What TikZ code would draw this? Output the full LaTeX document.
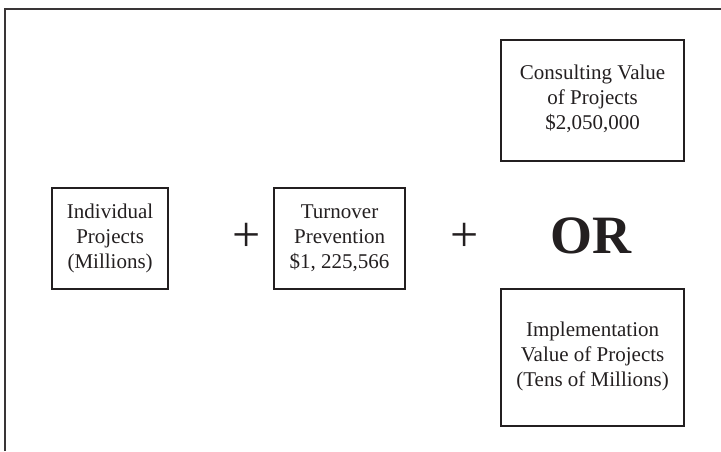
\documentclass[tikz,border=0pt]{standalone}
\usepackage{fontspec}
\setmainfont{Liberation Serif}
\definecolor{ink}{HTML}{231F20}
\begin{document}
\begin{tikzpicture}[x=1pt,y=-1pt,
  box/.style={draw=ink, line width=2.2pt, rectangle, inner sep=0pt, anchor=north west},
  boxtext/.style={align=center, text=ink, font=\fontsize{21}{25}\selectfont},
  plussign/.style={text=ink, font=\fontsize{50}{50}\selectfont},
  ortext/.style={text=ink, font=\fontsize{54}{54}\selectfont\bfseries}]
\useasboundingbox (0,0) rectangle (721,451);
% frame (top and left edges)
\draw[line width=2pt, draw=ink!90] (4.5,451) -- (4.5,8.5) -- (721,8.5);
% boxes
\node[box, minimum width=116pt, minimum height=101pt] (b1) at (51,187) {};
\node[box, minimum width=131pt, minimum height=101pt] (b2) at (273,187) {};
\node[box, minimum width=183pt, minimum height=121pt] (b3) at (500,39) {};
\node[box, minimum width=183pt, minimum height=137pt] (b4) at (500,288) {};
% box texts
\node[boxtext] (t1) at (b1.center) {Individual\\Projects\\(Millions)};
\node[boxtext] (t2) at (b2.center) {Turnover\\Prevention\\\$1, 225,566};
\node[boxtext] (t3) at ([yshift=2pt]b3.center) {Consulting Value\\of Projects\\\$2,050,000};
\node[boxtext] (t4) at ([yshift=1pt]b4.center) {Implementation\\Value of Projects\\(Tens of Millions)};
% operators
\node[plussign] (p1) at (247,237) {+};
\node[plussign] (p2) at (465,237) {+};
\node[ortext] (or) at (591,236) {OR};
\end{tikzpicture}
\end{document}
